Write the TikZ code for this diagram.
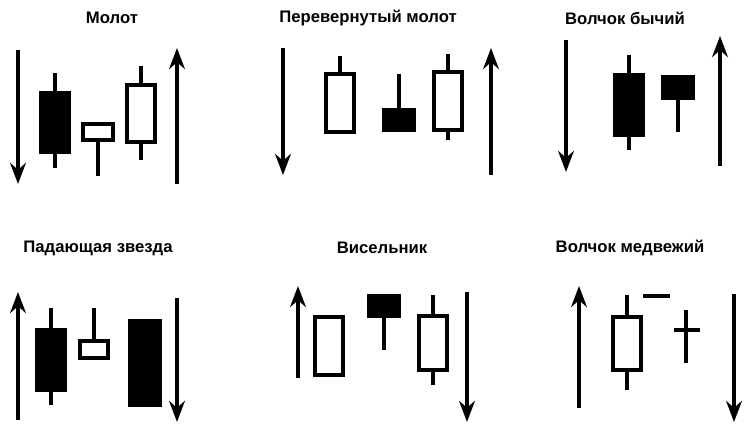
\documentclass[tikz,border=0pt]{standalone}
\usepackage{fontspec}
\setmainfont{Liberation Sans}
\usetikzlibrary{arrows.meta}
% \candle{x}{top}{bottom}{wick top}{wick bottom}{fill}{half width}
\newcommand{\candle}[7]{%
\draw [cndl] (#1,#4) -- (#1,#5);
\draw [cndl,fill=#6] (#1-#7,#2) rectangle (#1+#7,#3);}
\begin{document}
\begin{tikzpicture}[x=0.02cm,y=-0.02cm]
\tikzset{cndl/.style={line width=1.8pt},
trend/.style={line width=1.8pt,-{Stealth[length=12pt,width=9pt]}},
ttl/.style={font=\bfseries\fontsize{9.5}{11}\selectfont}}
\useasboundingbox (0,0) rectangle (750,431);
% Молот
\node [ttl] (t1) at (112,18) {Молот};
\draw [trend] (18,50) -- (18,184);
\candle{55}{93}{152}{73}{168}{black}{14}
\candle{98}{124}{140}{124}{176}{white}{15}
\candle{141}{85}{142}{66}{160}{white}{14}
\draw [trend] (177,184) -- (177,48);
% Перевернутый молот
\node [ttl] (t2) at (368,18) {Перевернутый молот};
\draw [trend] (283,48) -- (283,175);
\candle{340}{74}{132}{56}{132}{white}{14}
\candle{399}{110}{130}{74}{130}{black}{15}
\candle{448}{72}{130}{54}{140}{white}{14}
\draw [trend] (491,175) -- (491,48);
% Волчок бычий
\node [ttl] (t3) at (625,18) {Волчок бычий};
\draw [trend] (566,40) -- (566,172);
\candle{629}{75}{135}{55}{150}{black}{14}
\candle{678}{77}{98}{77}{132}{black}{15}
\draw [trend] (720,166) -- (720,36);
% Падающая звезда
\node [ttl] (t4) at (98,248) {Падающая звезда};
\draw [trend] (18,420) -- (18,292);
\candle{51}{330}{390}{308}{405}{black}{14}
\candle{94}{341}{358}{308}{358}{white}{14}
\candle{145}{321}{405}{321}{405}{black}{15}
\draw [trend] (177,298) -- (177,422);
% Висельник
\node [ttl] (t5) at (382,248) {Висельник};
\draw [trend] (298,378) -- (298,286);
\candle{329}{317}{375}{317}{375}{white}{14}
\candle{384}{296}{316}{296}{350}{black}{15}
\candle{433}{316}{370}{295}{385}{white}{14}
\draw [trend] (467,292) -- (467,422);
% Волчок медвежий
\node [ttl] (t6) at (630,248) {Волчок медвежий};
\draw [trend] (579,408) -- (579,286);
\candle{627}{317}{370}{295}{390}{white}{14}
\draw [cndl] (643,296) -- (670,296);
\draw [cndl] (686,310) -- (686,363);
\draw [cndl] (674,330) -- (700,330);
\draw [trend] (734,294) -- (734,422);
\end{tikzpicture}
\end{document}
